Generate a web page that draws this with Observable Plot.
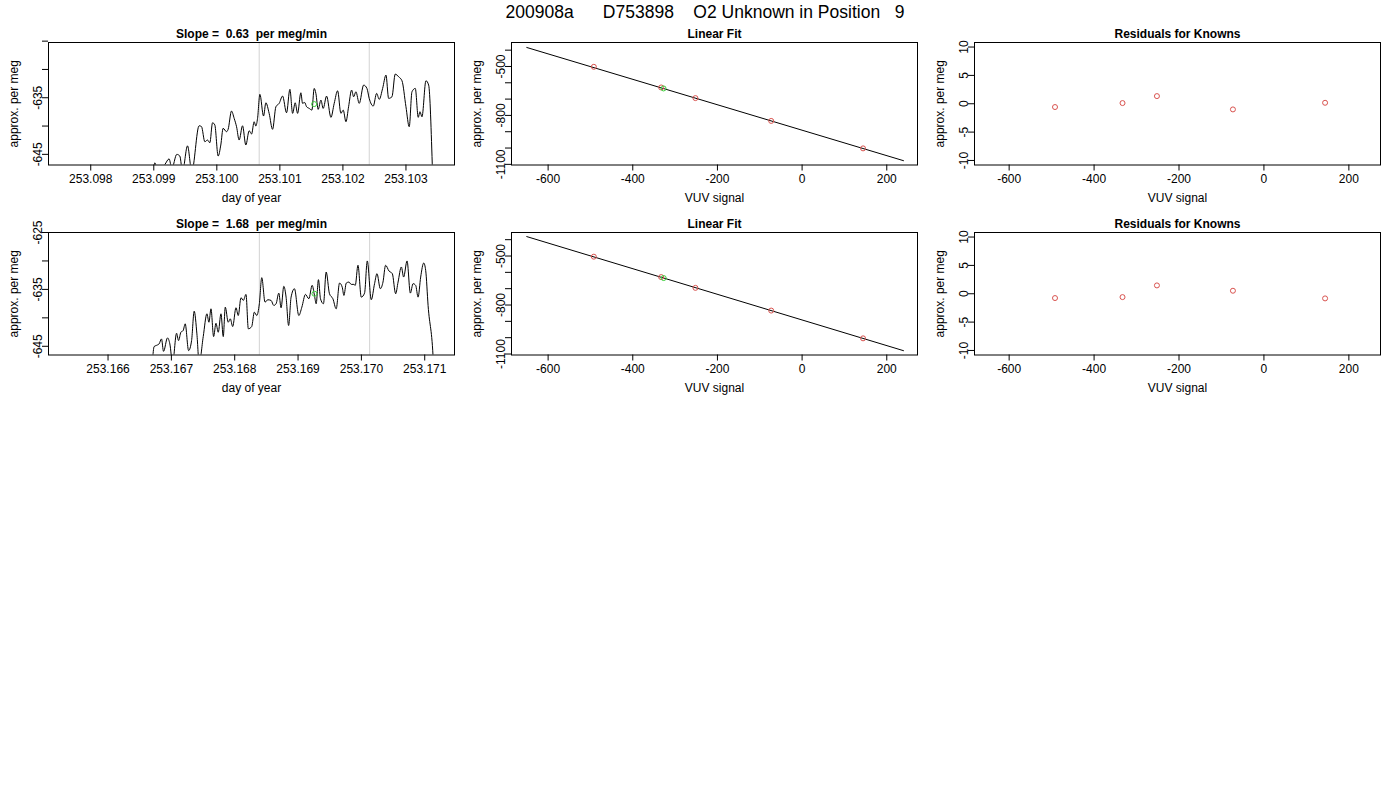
<!DOCTYPE html>
<html>
<head>
<meta charset="utf-8">
<script src="https://cdn.jsdelivr.net/npm/d3@7"></script>
<script src="https://cdn.jsdelivr.net/npm/@observablehq/plot@0.6"></script>
<style>
  html, body { margin: 0; padding: 0; background: #fff; }
  #page { position: relative; width: 1400px; height: 800px; background: #fff; overflow: hidden; font-family: "Liberation Sans", Arial, sans-serif; }
  #title { position: absolute; left: 0; width: 1410px; top: 4px; text-align: center; font-size: 17.5px; line-height: 17px; white-space: pre; color: #000; }
  .panel { position: absolute; }
</style>
</head>
<body>
<div id="page"><div id="title"></div></div>
<script>
// ---------- text ----------
const mainTitle = "200908a      D753898    O2 Unknown in Position   9";
const slopeTitles = ["Slope =  0.63  per meg/min", "Slope =  1.68  per meg/min"];
const fitTitle = "Linear Fit";
const residTitle = "Residuals for Knowns";
const timeXLabel = "day of year";
const vuvXLabel = "VUV signal";
const yLabel = "approx. per meg";

// ---------- row 1 time series ----------
const day1 = [
  253.097571, 253.098952, 253.099016, 253.099063, 253.099175, 253.099243, 253.099286, 253.099365, 253.099413, 253.099456,
  253.099535, 253.099603, 253.099719, 253.099757, 253.09981, 253.099852, 253.099889, 253.099932, 253.099968, 253.100021,
  253.100063, 253.1001, 253.100154, 253.100179, 253.100233, 253.100275, 253.100313, 253.100354, 253.100408, 253.10046,
  253.100513, 253.100551, 253.100592, 253.100619, 253.100646, 253.100683, 253.100741, 253.100778, 253.10083, 253.100884,
  253.100937, 253.100989, 253.101043, 253.101106, 253.101159, 253.101202, 253.101243, 253.101281, 253.101333, 253.10136,
  253.101392, 253.101424, 253.101465, 253.101508, 253.101544, 253.101571, 253.101608, 253.101651, 253.101687, 253.101741,
  253.10181, 253.101862, 253.101916, 253.101968, 253.102005, 253.102048, 253.10209, 253.102138, 253.10217, 253.102206,
  253.102259, 253.102329, 253.102381, 253.102417, 253.102481, 253.102535, 253.102576, 253.10263, 253.102683, 253.102725,
  253.102778, 253.10283, 253.102884, 253.102937, 253.103, 253.103052, 253.103095, 253.103148, 253.103195, 253.103222,
  253.103254, 253.103317, 253.10336, 253.103421, 253.103524
];
const perMeg1 = [
  -660, -660, -646.5, -648, -646.8, -645.8, -647.5, -645.0, -645.3, -648,
  -643.5, -648, -639.95, -640.1, -642.77, -642.47, -642.95, -639.42, -639.8, -645.3,
  -643.35, -640.4, -641.0, -640.58, -637.35, -638.64, -640.12, -642.47, -639.95, -643.35,
  -640.83, -641.41, -639.24, -640.0, -638.64, -634.4, -638.23, -635.89, -637.76, -640.58,
  -636.59, -635.99, -634.7, -637.65, -633.52, -637.76, -635.89, -637.76, -634.12, -635.99,
  -635.82, -636.59, -636.88, -637.18, -633.35, -634.23, -637.05, -635.41, -636.88, -634.71,
  -638.46, -635.99, -633.77, -637.76, -637.18, -639.24, -636.59, -633.65, -634.83, -633.95,
  -635.99, -632.76, -633.35, -635.11, -636.47, -634.23, -635.29, -633.35, -631.0, -635.11,
  -634.83, -630.82, -631.3, -632.0, -636.59, -640.12, -633.95, -633.35, -638.46, -637.47,
  -638.36, -632.0, -632.76, -648, -700
];
const windowLines1 = [253.100672, 253.102418];
const unknownDay1 = [253.101544];
const unknownMeg1 = [-636.12];

// ---------- row 2 time series ----------
const day2 = [
  253.165299, 253.166643, 253.166702, 253.166727, 253.166781, 253.166806, 253.166844, 253.166876, 253.166939, 253.166976,
  253.167019, 253.167082, 253.167113, 253.16715, 253.167186, 253.167218, 253.167272, 253.167319, 253.16736, 253.167403,
  253.167439, 253.167503, 253.167561, 253.167593, 253.167625, 253.167667, 253.167704, 253.16774, 253.167783, 253.167819,
  253.167851, 253.167898, 253.16793, 253.167968, 253.16802, 253.168056, 253.168099, 253.168136, 253.168178, 253.168215,
  253.168268, 253.16831, 253.168348, 253.168389, 253.168427, 253.168479, 253.168522, 253.168574, 253.168617, 253.168653,
  253.168696, 253.168732, 253.168775, 253.168811, 253.168851, 253.16889, 253.168943, 253.169012, 253.16906, 253.169117,
  253.16917, 253.169223, 253.169259, 253.169286, 253.169322, 253.169354, 253.169401, 253.169444, 253.169496, 253.16955,
  253.169602, 253.169655, 253.169697, 253.169724, 253.169761, 253.169803, 253.16984, 253.169882, 253.169903, 253.169946,
  253.169998, 253.17005, 253.170093, 253.170156, 253.170208, 253.170246, 253.170299, 253.170341, 253.170382, 253.170436,
  253.170488, 253.170541, 253.170579, 253.170631, 253.170667, 253.170721, 253.170773, 253.170816, 253.170857, 253.170895,
  253.170936, 253.170984, 253.171015, 253.171053, 253.171137, 253.171233
];
const perMeg2 = [
  -660, -660, -647.5, -645.06, -644.76, -644.58, -643.7, -645.89, -643.52, -644.58,
  -648, -642.71, -644.0, -642.53, -642.23, -641.05, -645.76, -644.0, -638.83, -642.82,
  -648, -643.29, -639.29, -640.77, -638.41, -643.29, -640.95, -642.53, -639.29, -643.29,
  -638.12, -640.77, -640.17, -641.53, -638.23, -639.59, -636.46, -636.94, -635.88, -641.93,
  -641.53, -639.0, -639.59, -637.52, -632.94, -637.24, -636.82, -636.94, -637.82, -637.52,
  -635.65, -638.23, -634.47, -636.36, -641.35, -636.36, -634.88, -639.59, -638.12, -635.88,
  -636.64, -634.29, -636.06, -637.52, -633.29, -636.64, -637.52, -631.95, -635.76, -636.64,
  -638.41, -633.89, -634.59, -636.06, -633.89, -633.71, -634.12, -634.12, -634.29, -630.76,
  -636.36, -635.65, -630.0, -636.82, -633.99, -632.23, -634.88, -633.71, -630.76, -631.77,
  -632.23, -635.76, -633.71, -631.06, -632.83, -630.0, -635.65, -633.99, -634.29, -636.36,
  -632.83, -630.36, -631.65, -637.82, -648, -700
];
const windowLines2 = [253.168389, 253.17013];
const unknownDay2 = [253.169259];
const unknownMeg2 = [-635.76];

// ---------- linear fit ----------
const knownVUV = [-492, -333, -252, -73, 144];
const knownMeg1 = [-502, -628.6, -693.9, -833.7, -1002];
const knownMeg2 = [-504, -629, -695, -834, -1004];
const unknownVUV1 = [-327.3];
const unknownFit1 = [-634.7];
const unknownVUV2 = [-327];
const unknownFit2 = [-635];
const fitLineVUV = [-650.4, 239.5];
const fitLineMeg1 = [-383.5, -1077.5];
const fitLineMeg2 = [-381, -1079.5];

// ---------- residuals ----------
const resid1 = [-0.58, 0.12, 1.35, -1.0, 0.17];
const resid2 = [-0.76, -0.59, 1.47, 0.53, -0.82];

// ---------- ticks ----------
const dayTicks1 = [253.098, 253.099, 253.100, 253.101, 253.102, 253.103];
const dayTicks2 = [253.166, 253.167, 253.168, 253.169, 253.170, 253.171];
const megTicks = [-645, -640, -635, -630, -625];
const megLabeled1 = [-645, -635];
const megLabeled2 = [-645, -635, -625];
const vuvTicks = [-600, -400, -200, 0, 200];
const fitTicks = [-1100, -1000, -900, -800, -700, -600, -500, -400];
const fitLabeled = [-1100, -800, -500];
const residTicks = [-10, -5, 0, 5, 10];

// ---------- layout ----------
const colLeft = [48, 511, 974];
const rowTop = [42, 232];
const frameW = 406, frameH = 122.5;
const mL = 48, mR = 8, mT = 30, mB = 50;
const BLACK = "#000";
const KNOWN_RED = "#D9534F";
const UNK_GREEN = "#3CD03C";

document.getElementById("title").textContent = mainTitle;
const page = document.getElementById("page");

function panel(col, row, cfg) {
  const {xDomain, yDomain, xTicks, xFmt, yTicks, yLabeled, title, xLabel, marks} = cfg;
  const chart = Plot.plot({
    width: mL + frameW + mR,
    height: mT + frameH + mB,
    marginLeft: mL, marginRight: mR, marginTop: mT, marginBottom: mB,
    x: {domain: xDomain},
    y: {domain: yDomain},
    style: {fontFamily: "'Liberation Sans', Arial, sans-serif", fontSize: "12px", color: "#000", background: "transparent", overflow: "visible"},
    marks: [
      ...marks,
      Plot.frame({stroke: BLACK, strokeWidth: 1}),
      Plot.axisX({ticks: xTicks, tickSize: 6, tickPadding: 3, tickFormat: xFmt, label: null}),
      Plot.axisY({ticks: yTicks, tickSize: 6, tickPadding: 1, tickRotate: -90,
        tickFormat: d => (yLabeled.includes(d) ? String(d) : ""), label: null}),
      Plot.text([title], {text: d => d, frameAnchor: "top", dy: -8, fontWeight: "bold", lineAnchor: "middle", textAnchor: "middle"}),
      Plot.text([xLabel], {text: d => d, frameAnchor: "bottom", dy: 33, lineAnchor: "middle", textAnchor: "middle"}),
      Plot.text([yLabel], {text: d => d, frameAnchor: "left", dx: -34, rotate: -90, lineAnchor: "middle", textAnchor: "middle"})
    ]
  });
  chart.classList.add("panel");
  chart.style.left = (colLeft[col] - mL) + "px";
  chart.style.top = (rowTop[row] - mT) + "px";
  page.appendChild(chart);
}

const fmtDay = d => d.toFixed(3);
const fmtInt = d => String(d);

function series(days, vals) { return days.map((d, i) => ({d, v: vals[i]})); }
function pairs(xs, ys) { return xs.map((x, i) => ({x, y: ys[i]})); }

const rows = [
  {day: day1, meg: perMeg1, win: windowLines1, ud: unknownDay1, um: unknownMeg1,
   xDomain: [253.09733, 253.10377], yDomain: [-646.88, -625.24], dayTicks: dayTicks1, megLab: megLabeled1,
   known: knownMeg1, uv: unknownVUV1, uf: unknownFit1, line: fitLineMeg1, fitDom: [-1104, -353], resid: resid1},
  {day: day2, meg: perMeg2, win: windowLines2, ud: unknownDay2, um: unknownMeg2,
   xDomain: [253.16506, 253.17147], yDomain: [-646.53, -625.0], dayTicks: dayTicks2, megLab: megLabeled2,
   known: knownMeg2, uv: unknownVUV2, uf: unknownFit2, line: fitLineMeg2, fitDom: [-1106, -356], resid: resid2}
];

rows.forEach((r, row) => {
  panel(0, row, {
    xDomain: r.xDomain, yDomain: r.yDomain, xTicks: r.dayTicks, xFmt: fmtDay,
    yTicks: megTicks, yLabeled: r.megLab, title: slopeTitles[row], xLabel: timeXLabel,
    marks: [
      Plot.ruleX(r.win, {x: d => d, stroke: "#d3d3d3", strokeWidth: 1}),
      Plot.line(series(r.day, r.meg), {x: "d", y: "v", stroke: BLACK, strokeWidth: 1, clip: true, curve: "monotone-x"}),
      Plot.dot(pairs(r.ud, r.um), {x: "x", y: "y", r: 2.5, stroke: UNK_GREEN, strokeWidth: 1, fill: "none", clip: true})
    ]
  });
  panel(1, row, {
    xDomain: [-686.5, 272.6], yDomain: r.fitDom, xTicks: vuvTicks, xFmt: fmtInt,
    yTicks: fitTicks, yLabeled: fitLabeled, title: fitTitle, xLabel: vuvXLabel,
    marks: [
      Plot.line(pairs(fitLineVUV, r.line), {x: "x", y: "y", stroke: BLACK, strokeWidth: 1}),
      Plot.dot(pairs(knownVUV, r.known), {x: "x", y: "y", r: 2.5, stroke: KNOWN_RED, strokeWidth: 1, fill: "none"}),
      Plot.dot(pairs(r.uv, r.uf), {x: "x", y: "y", r: 2.5, stroke: UNK_GREEN, strokeWidth: 1, fill: "none"})
    ]
  });
  panel(2, row, {
    xDomain: [-681.6, 274.5], yDomain: [-10.8, 10.8], xTicks: vuvTicks, xFmt: fmtInt,
    yTicks: residTicks, yLabeled: residTicks, title: residTitle, xLabel: vuvXLabel,
    marks: [
      Plot.dot(pairs(knownVUV, r.resid), {x: "x", y: "y", r: 2.5, stroke: KNOWN_RED, strokeWidth: 1, fill: "none"})
    ]
  });
});
</script>
</body>
</html>
